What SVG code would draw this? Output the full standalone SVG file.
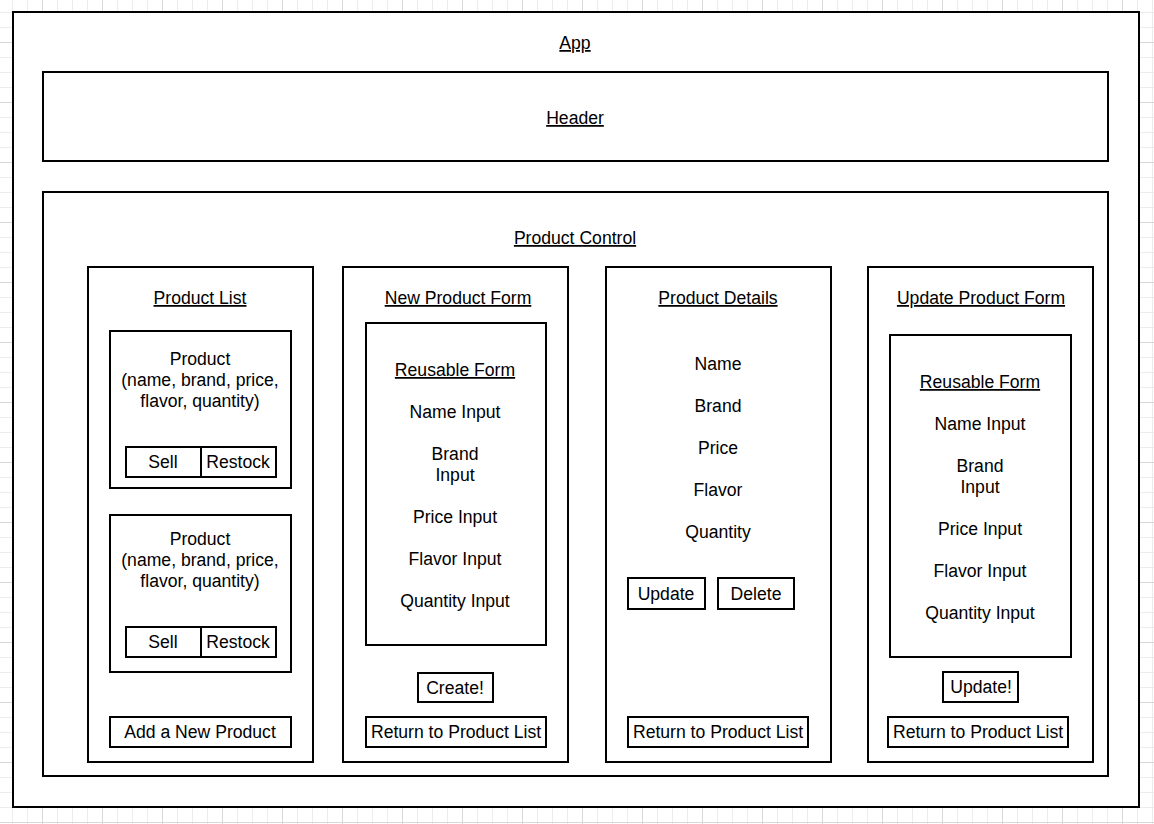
<svg xmlns="http://www.w3.org/2000/svg" width="1154" height="824" viewBox="0 0 1154 824">
<style>
.box{fill:#fff;stroke:#000;stroke-width:2}
.t{font-family:"Liberation Sans",Arial,sans-serif;font-size:17.6px;fill:#000;text-anchor:middle}
.u{text-decoration:underline}
</style>
<defs>
<pattern id="minor" patternUnits="userSpaceOnUse" x="12" y="12" width="15" height="15">
<path d="M0 0.5H15M0.5 0V15" stroke="#ececec" stroke-width="1" fill="none"/>
</pattern>
<pattern id="major" patternUnits="userSpaceOnUse" x="42" y="42" width="60" height="60">
<path d="M0 0.5H60M0.5 0V60" stroke="#d8d8d8" stroke-width="1" fill="none"/>
</pattern>
</defs>
<rect width="1154" height="824" fill="#fff"/>
<rect width="1154" height="824" fill="url(#minor)"/>
<rect width="1154" height="824" fill="url(#major)"/>

<g id="app">
<rect class="box" x="13" y="12" width="1126" height="795"/>
<text class="t u" x="575" y="49">App</text>
</g>
<g id="header">
<rect class="box" x="43" y="72" width="1065" height="89"/>
<text class="t u" x="575" y="124">Header</text>
</g>
<g id="product-control">
<rect class="box" x="43" y="192" width="1065" height="584"/>
<text class="t u" x="575" y="244">Product Control</text>
</g>

<g id="product-list">
<rect class="box" x="88" y="267" width="225" height="495"/>
<text class="t u" x="200" y="304">Product List</text>
</g>
<g id="product-1">
<rect class="box" x="110" y="331" width="181" height="157"/>
<text class="t" x="200" y="365">Product</text>
<text class="t" x="200" y="386">(name, brand, price,</text>
<text class="t" x="200" y="407">flavor, quantity)</text>
</g>
<g id="sell-1"><rect class="box" x="126" y="447" width="75" height="30"/><text class="t" x="163" y="468">Sell</text></g>
<g id="restock-1"><rect class="box" x="201" y="447" width="75" height="30"/><text class="t" x="238" y="468">Restock</text></g>
<g id="product-2">
<rect class="box" x="110" y="515" width="181" height="157"/>
<text class="t" x="200" y="545">Product</text>
<text class="t" x="200" y="566">(name, brand, price,</text>
<text class="t" x="200" y="587">flavor, quantity)</text>
</g>
<g id="sell-2"><rect class="box" x="126" y="627" width="75" height="30"/><text class="t" x="163" y="648">Sell</text></g>
<g id="restock-2"><rect class="box" x="201" y="627" width="75" height="30"/><text class="t" x="238" y="648">Restock</text></g>
<g id="add-new-product"><rect class="box" x="110" y="717" width="181" height="30"/><text class="t" x="200" y="738">Add a New Product</text></g>

<g id="new-product-form">
<rect class="box" x="343" y="267" width="225" height="495"/>
<text class="t u" x="458" y="304">New Product Form</text>
</g>
<g id="reusable-form-1">
<rect class="box" x="366" y="323" width="180" height="322"/>
<text class="t u" x="455" y="376">Reusable Form</text>
<text class="t" x="455" y="418">Name Input</text>
<text class="t" x="455" y="460">Brand</text>
<text class="t" x="455" y="481">Input</text>
<text class="t" x="455" y="523">Price Input</text>
<text class="t" x="455" y="565">Flavor Input</text>
<text class="t" x="455" y="607">Quantity Input</text>
</g>
<g id="create-btn"><rect class="box" x="418" y="673" width="75" height="29"/><text class="t" x="455" y="694">Create!</text></g>
<g id="return-1"><rect class="box" x="366" y="717" width="180" height="30"/><text class="t" x="456" y="738">Return to Product List</text></g>

<g id="product-details">
<rect class="box" x="606" y="267" width="225" height="495"/>
<text class="t u" x="718" y="304">Product Details</text>
<text class="t" x="718" y="370">Name</text>
<text class="t" x="718" y="412">Brand</text>
<text class="t" x="718" y="454">Price</text>
<text class="t" x="718" y="496">Flavor</text>
<text class="t" x="718" y="538">Quantity</text>
</g>
<g id="update-btn"><rect class="box" x="628" y="578" width="77" height="31"/><text class="t" x="666" y="600">Update</text></g>
<g id="delete-btn"><rect class="box" x="718" y="578" width="76" height="31"/><text class="t" x="756" y="600">Delete</text></g>
<g id="return-2"><rect class="box" x="628" y="717" width="180" height="30"/><text class="t" x="718" y="738">Return to Product List</text></g>

<g id="update-product-form">
<rect class="box" x="868" y="267" width="225" height="495"/>
<text class="t u" x="981" y="304">Update Product Form</text>
</g>
<g id="reusable-form-2">
<rect class="box" x="890" y="335" width="181" height="322"/>
<text class="t u" x="980" y="388">Reusable Form</text>
<text class="t" x="980" y="430">Name Input</text>
<text class="t" x="980" y="472">Brand</text>
<text class="t" x="980" y="493">Input</text>
<text class="t" x="980" y="535">Price Input</text>
<text class="t" x="980" y="577">Flavor Input</text>
<text class="t" x="980" y="619">Quantity Input</text>
</g>
<g id="update-form-btn"><rect class="box" x="943" y="672" width="75" height="30"/><text class="t" x="981" y="693">Update!</text></g>
<g id="return-3"><rect class="box" x="888" y="717" width="180" height="30"/><text class="t" x="978" y="738">Return to Product List</text></g>

<g id="connectors"></g>
</svg>
